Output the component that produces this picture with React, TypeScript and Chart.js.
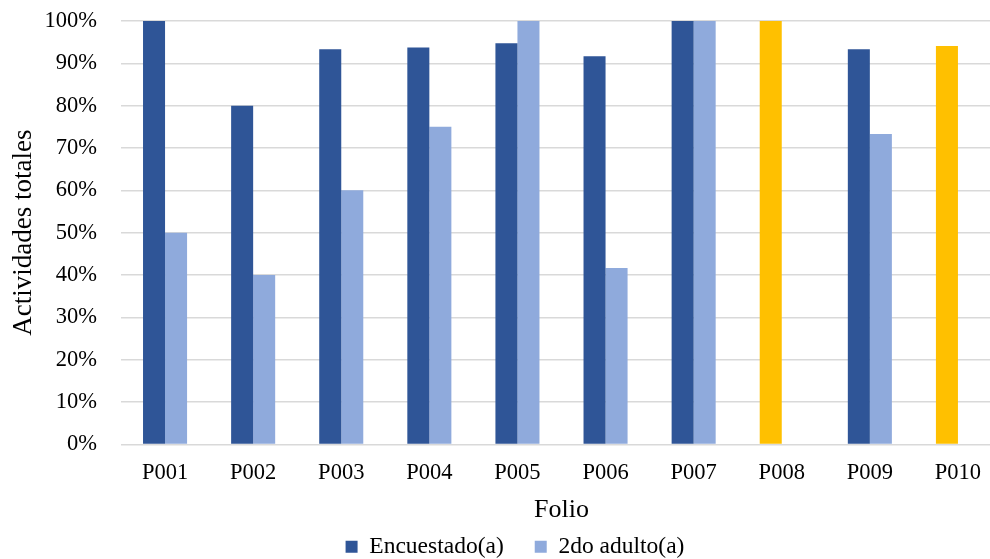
import React, { useEffect, useRef } from "react";
import { Chart, registerables } from "chart.js";

Chart.register(...registerables);

const folios = ["P001", "P002", "P003", "P004", "P005", "P006", "P007", "P008", "P009", "P010"];
const encuestado = [100, 80, 93.33, 93.75, 94.74, 91.67, 100, 100, 93.33, 94.12];
const segundoAdulto: (number | null)[] = [50, 40, 60, 75, 100, 41.67, 100, null, 73.33, null];
const yTicks = [0, 10, 20, 30, 40, 50, 60, 70, 80, 90, 100];

const DARK = "#2F5597";
const LIGHT = "#8FAADC";
const GOLD = "#FFC000";
const FONT = "'Liberation Serif', 'Times New Roman', serif";

export default function App() {
  const ref = useRef<HTMLCanvasElement | null>(null);

  useEffect(() => {
    if (!ref.current) return;
    const chart = new Chart(ref.current, {
      type: "bar",
      data: {
        labels: folios,
        datasets: [
          {
            label: "Encuestado(a)",
            data: encuestado,
            backgroundColor: (ctx: any) =>
              ctx.type === "data" && segundoAdulto[ctx.dataIndex] == null ? GOLD : DARK,
            categoryPercentage: 0.5,
            barPercentage: 1,
          },
          {
            label: "2do adulto(a)",
            data: segundoAdulto,
            backgroundColor: LIGHT,
            categoryPercentage: 0.5,
            barPercentage: 1,
          },
        ],
      },
      options: {
        responsive: false,
        animation: false,
        layout: { padding: { top: 21, left: 0, right: 0, bottom: 0 } },
        plugins: {
          tooltip: { enabled: false },
          legend: {
            position: "bottom",
            maxHeight: 55,
            labels: {
              font: { family: FONT, size: 23.5 },
              color: "#000",
              boxWidth: 12,
              boxHeight: 12,
              padding: 31,
            },
          },
        },
        scales: {
          x: {
            grid: { display: false },
            border: { display: false },
            ticks: { font: { family: FONT, size: 22.5 }, color: "#000", padding: 7 },
            title: {
              display: true,
              text: "Folio",
              font: { family: FONT, size: 26 },
              color: "#000",
              padding: { top: 1, bottom: -21.6 },
            },
          },
          y: {
            min: 0,
            max: 100,
            afterBuildTicks: (s: any) => {
              s.ticks = yTicks.map((v) => ({ value: v }));
            },
            afterFit: (s: any) => {
              s.width = 121;
              s.paddingTop = 0;
              s.paddingBottom = 0;
            },
            grid: { color: "#D9D9D9", lineWidth: 1.5, drawTicks: false },
            border: { display: false },
            ticks: {
              font: { family: FONT, size: 22.5 },
              color: "#000",
              padding: 24,
              callback: (v: any) => v + "%",
            },
            title: {
              display: true,
              text: "Actividades totales",
              font: { family: FONT, size: 27 },
              color: "#000",
              padding: { top: 8, bottom: 4 },
            },
          },
          y2: {
            position: "right",
            display: true,
            grid: { display: false },
            border: { display: false },
            ticks: { display: false },
            afterFit: (s: any) => {
              s.width = 28;
            },
          },
        },
      },
    });
    return () => chart.destroy();
  }, []);

  return (
    <div style={{ position: "absolute", left: 0, top: 0, width: 990, height: 559, overflow: "hidden", background: "#fff" }}>
      <canvas ref={ref} width={1030} height={559} style={{ width: 1030, height: 559, display: "block" }} />
    </div>
  );
}
